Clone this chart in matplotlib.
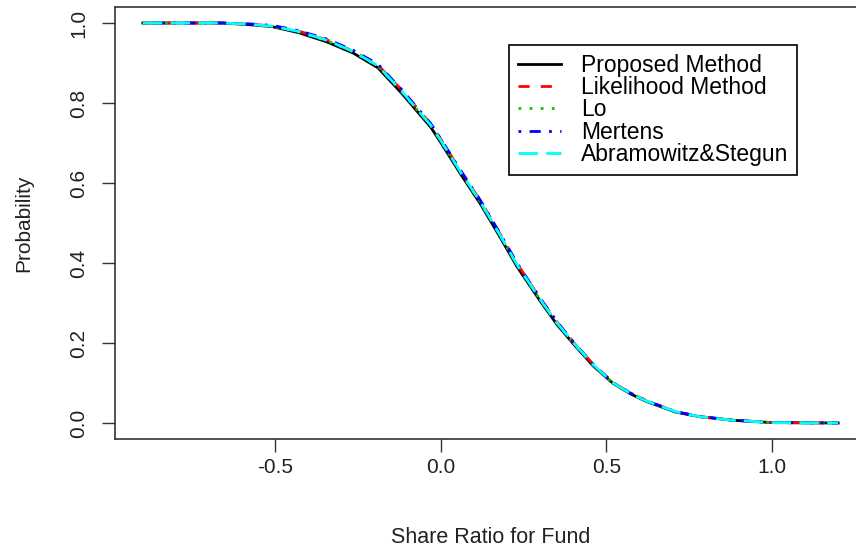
import matplotlib.pyplot as plt

# share ratio grid and the five tail-probability curves
sr = [-0.90, -0.80, -0.66, -0.58, -0.51, -0.43, -0.345, -0.265, -0.19, -0.12,
      -0.03, 0.00, 0.06, 0.12, 0.18, 0.23, 0.30, 0.35, 0.40, 0.46,
      0.52, 0.57, 0.62, 0.71, 0.78, 0.88, 1.00, 1.20]
p_proposed = [1.000, 1.000, 1.000, 0.996, 0.991, 0.976, 0.953, 0.925, 0.888, 0.826,
              0.739, 0.701, 0.622, 0.547, 0.463, 0.391, 0.305, 0.247, 0.198, 0.143,
              0.099, 0.074, 0.054, 0.027, 0.016, 0.007, 0.001, 0.000]
p_likelihood = [1.000, 1.000, 1.000, 0.997, 0.993, 0.980, 0.958, 0.930, 0.895, 0.834,
                0.747, 0.709, 0.630, 0.555, 0.471, 0.399, 0.311, 0.253, 0.202, 0.147,
                0.101, 0.076, 0.056, 0.028, 0.016, 0.007, 0.001, 0.000]
p_lo = [1.000, 1.000, 1.000, 0.997, 0.992, 0.978, 0.956, 0.928, 0.892, 0.830,
        0.743, 0.705, 0.626, 0.551, 0.467, 0.395, 0.308, 0.250, 0.200, 0.145,
        0.100, 0.075, 0.055, 0.028, 0.016, 0.007, 0.001, 0.000]
p_mertens = [1.000, 1.000, 1.000, 0.998, 0.994, 0.981, 0.960, 0.932, 0.897, 0.835,
             0.748, 0.710, 0.631, 0.556, 0.472, 0.400, 0.312, 0.254, 0.203, 0.147,
             0.101, 0.076, 0.056, 0.028, 0.017, 0.007, 0.001, 0.000]
p_as = [1.000, 1.000, 1.000, 0.997, 0.992, 0.979, 0.957, 0.929, 0.893, 0.831,
        0.744, 0.706, 0.627, 0.552, 0.468, 0.396, 0.309, 0.251, 0.201, 0.146,
        0.100, 0.075, 0.055, 0.028, 0.016, 0.007, 0.001, 0.000]

labels = ["Proposed Method", "Likelihood Method", "Lo", "Mertens", "Abramowitz&Stegun"]
colors = ["black", "red", "#00cd00", "blue", "cyan"]
styles = ["-", (0, (4, 4)), (0, (1, 3)), (0, (1, 3, 4, 3)), (0, (7, 3))]

plt.rcParams["font.family"] = ["Liberation Sans", "DejaVu Sans"]

W, H = 856, 551
fig = plt.figure(figsize=(W / 100, H / 100), dpi=100)
# plot region: left 115px, top 7px, bottom 439px, right edge runs off the canvas
ax = fig.add_axes([115 / W, (H - 439) / H, (866 - 115) / W, (439 - 7) / H])

for y, lab, c, ls in zip([p_proposed, p_likelihood, p_lo, p_mertens, p_as],
                         labels, colors, styles):
    ax.plot(sr, y, color=c, linestyle=ls, linewidth=2.0, label=lab)

ax.set_xlim(-0.984, 1.284)
ax.set_ylim(-0.04, 1.04)
ax.set_xticks([-0.5, 0.0, 0.5, 1.0])
ax.set_xticklabels(["-0.5", "0.0", "0.5", "1.0"])
ax.set_yticks([0.0, 0.2, 0.4, 0.6, 0.8, 1.0])
ax.set_yticklabels(["0.0", "0.2", "0.4", "0.6", "0.8", "1.0"],
                   rotation=90, va="center")

for s in ax.spines.values():
    s.set_color("#333333")
    s.set_linewidth(1.2)
ax.tick_params(colors="#333333", length=9.5, width=1.0, labelsize=15,
               labelcolor="#222222")
ax.tick_params(axis="x", pad=4)
ax.tick_params(axis="y", pad=10)

ax.set_xlabel("Share Ratio for Fund", fontsize=15.5, color="#222222", labelpad=36)
ax.set_ylabel("Probability", fontsize=15, color="#222222", labelpad=26)

leg = ax.legend(loc="upper left", bbox_to_anchor=(509 / W, 1 - 45 / H),
                bbox_transform=fig.transFigure, fontsize=16.5, frameon=True,
                fancybox=False, edgecolor="black", framealpha=1,
                handlelength=1.9, handletextpad=0.85, labelspacing=-0.03,
                borderpad=0.38, borderaxespad=0)
leg.get_frame().set_linewidth(1.2)

fig.savefig("out.png", dpi=100)
